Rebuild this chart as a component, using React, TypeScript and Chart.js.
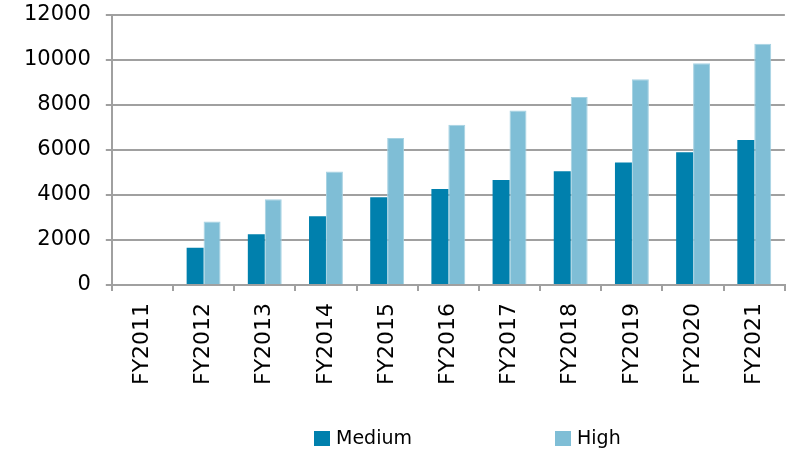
import React, { useEffect, useRef } from "react";
import { Chart, registerables } from "chart.js";

Chart.register(...registerables);

const categories = ["FY2011", "FY2012", "FY2013", "FY2014", "FY2015", "FY2016", "FY2017", "FY2018", "FY2019", "FY2020", "FY2021"];
const mediumValues = [0, 1650, 2250, 3050, 3900, 4260, 4660, 5050, 5440, 5900, 6440];
const highValues = [0, 2820, 3810, 5040, 6530, 7120, 7750, 8360, 9140, 9850, 10720];
const seriesNames = ["Medium", "High"];
const seriesColors = ["#0080ad", "#7fbed6"];
const seriesBorders = ["#0080ad", "#a6d2e2"];

const FONT = "'DejaVu Sans', Verdana, sans-serif";
const GRID = "#a0a0a0";

const legendPlugin = {
  id: "customLegend",
  afterDraw(chart: any) {
    const ctx = chart.ctx;
    const xs = [314, 555];
    const y = 431;
    ctx.save();
    ctx.font = `19px ${FONT}`;
    ctx.textBaseline = "middle";
    ctx.textAlign = "left";
    chart.data.datasets.forEach((ds: any, i: number) => {
      ctx.fillStyle = ds.backgroundColor;
      ctx.fillRect(xs[i], y, 16, 15);
      ctx.fillStyle = "#000";
      ctx.fillText(ds.label, xs[i] + 22, y + 8);
    });
    ctx.restore();
  },
};

export default function App() {
  const ref = useRef<HTMLCanvasElement>(null);
  useEffect(() => {
    document.body.style.margin = "0";
    const chart = new Chart(ref.current!, {
      type: "bar",
      data: {
        labels: categories,
        datasets: [
          { label: seriesNames[0], data: mediumValues, backgroundColor: seriesColors[0], borderColor: seriesBorders[0], borderWidth: 0 },
          { label: seriesNames[1], data: highValues, backgroundColor: seriesColors[1], borderColor: seriesBorders[1], borderWidth: { top: 1, left: 1, right: 1, bottom: 0 } },
        ],
      },
      options: {
        animation: false,
        responsive: false,
        maintainAspectRatio: false,
        layout: { padding: { top: 15, right: 7, bottom: 56, left: 9 } },
        datasets: { bar: { categoryPercentage: 0.554, barPercentage: 1 } },
        plugins: { legend: { display: false }, tooltip: { enabled: false } },
        scales: {
          x: {
            grid: { drawOnChartArea: false, drawTicks: true, tickLength: 6, color: GRID, lineWidth: 2 },
            border: { color: GRID, width: 2 },
            ticks: { maxRotation: 90, minRotation: 90, padding: 12, color: "#000", font: { family: FONT, size: 22 } },
          },
          y: {
            min: 0,
            max: 12000,
            grid: { color: GRID, lineWidth: 2, tickLength: 6 },
            border: { color: GRID, width: 2 },
            afterFit: (s: any) => {
              s.paddingTop = 12;
              s.paddingBottom = 12;
            },
            ticks: {
              stepSize: 2000,
              padding: 15,
              color: "#000",
              font: { family: FONT, size: 21 },
              callback: (v: any) => String(v),
            },
          },
        },
      },
      plugins: [legendPlugin],
    });
    return () => chart.destroy();
  }, []);
  return <canvas ref={ref} width={793} height={453} style={{ display: "block" }} />;
}
